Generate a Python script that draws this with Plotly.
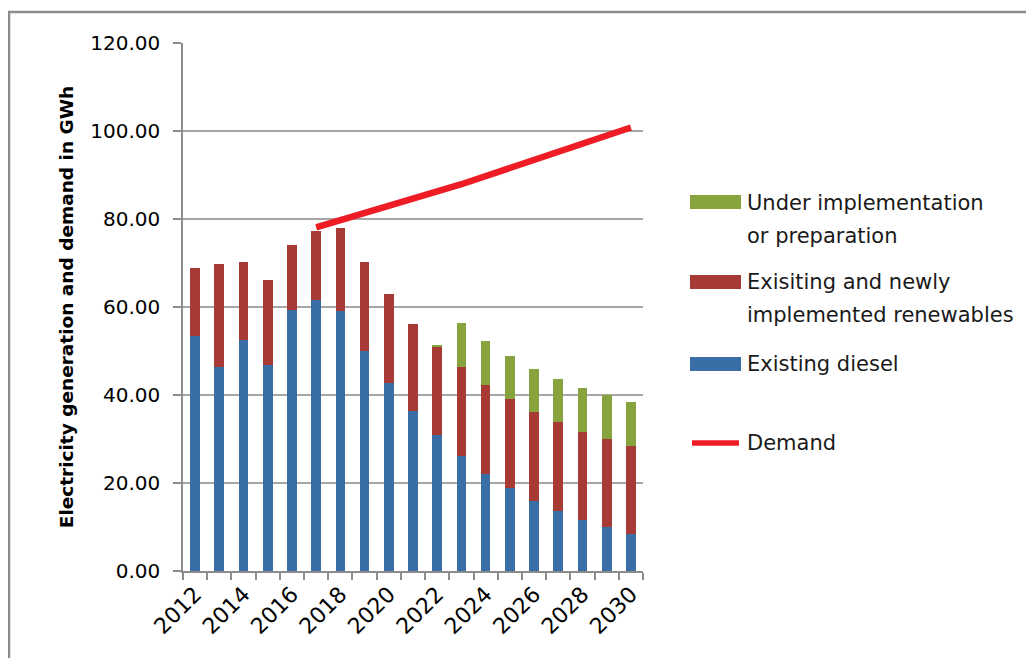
import plotly.graph_objects as go

years = list(range(2012, 2031))
diesel = [53.3, 46.3, 52.4, 46.9, 59.4, 61.7, 59.2, 50.1, 42.8, 36.4,
          30.9, 26.2, 22.1, 18.9, 16.0, 13.7, 11.6, 9.9, 8.4]
renew_total = [68.9, 69.8, 70.2, 66.1, 74.2, 77.3, 78.0, 70.2, 62.9, 56.2,
               51.0, 46.4, 42.3, 39.1, 36.1, 33.9, 31.7, 30.1, 28.5]
green_total = [None] * 10 + [51.4, 56.3, 52.3, 48.9, 46.0, 43.7, 41.7, 40.0, 38.5]
demand_years = list(range(2017, 2031))
demand = [78.1, 79.8, 81.5, 83.2, 84.8, 86.3, 87.9, 89.7, 91.6, 93.4, 95.2, 97.0, 98.7, 100.8]

renew = [round(t - d, 2) for t, d in zip(renew_total, diesel)]
green = [0 if g is None else round(g - t, 2) for g, t in zip(green_total, renew_total)]

names = ["Existing diesel", "Exisiting and newly<br>implemented renewables",
         "Under implementation<br>or preparation", "Demand"]
colors = ["#3A6EA6", "#A83A36", "#86A33E", "#EE1C25"]

tick_years = [y for y in years if y % 2 == 0]
boundaries = [y - 0.5 for y in years] + [years[-1] + 0.5]
y_ticks = [0, 20, 40, 60, 80, 100, 120]

FONT = "DejaVu Sans"
fig = go.Figure()
for vals, nm, col in zip([diesel, renew, green], names[:3], colors[:3]):
    fig.add_trace(go.Bar(x=years, y=vals, name=nm.replace("<br>", " "),
                         marker=dict(color=col, line=dict(width=0)),
                         showlegend=False))
fig.add_trace(go.Scatter(x=demand_years, y=demand, mode="lines", name="Demand",
                         line=dict(color=colors[3], width=6.5), showlegend=False))

# page body has an 8px margin; work in page pixel coordinates
OFF = 8
W, H = 1034 - OFF, 658 - OFF
L, R, T, B = 183, 643, 43, 571


def px(x):
    return (x - L) / (R - L)


def py(y):
    return (B - y) / (B - T)


shapes = [dict(type="rect", xref="paper", yref="paper", x0=px(OFF + 1), x1=px(1300),
               y0=py(900), y1=py(12), line=dict(color="#8C8C8C", width=2.5),
               fillcolor="rgba(0,0,0,0)", layer="below")]
annotations = []
# custom legend: (series index, kind, swatch centre y, first text line y)
legend_items = [
    (2, "bar", 202, 203),
    (1, "bar", 282, 282),
    (0, "bar", 364, 364),
    (3, "line", 443, 443),
]
LINE_STEP = 33
for idx, kind, sy, ty in legend_items:
    if kind == "bar":
        shapes.append(dict(type="rect", xref="paper", yref="paper",
                           x0=px(690), x1=px(741), y0=py(sy + 7), y1=py(sy - 7),
                           fillcolor=colors[idx], line=dict(width=0)))
    else:
        shapes.append(dict(type="line", xref="paper", yref="paper",
                           x0=px(692), x1=px(739), y0=py(sy), y1=py(sy),
                           line=dict(color=colors[idx], width=5.5)))
    for k, part in enumerate(names[idx].split("<br>")):
        annotations.append(dict(xref="paper", yref="paper", x=px(745),
                                y=py(ty + k * LINE_STEP),
                                xanchor="left", yanchor="middle", align="left",
                                text=part, showarrow=False,
                                font=dict(family=FONT, size=21, color="#1a1a1a")))

fig.update_layout(
    width=W, height=H,
    margin=dict(l=L - OFF, r=1034 - R, t=T - OFF, b=658 - B, pad=0),
    paper_bgcolor="white", plot_bgcolor="white",
    barmode="stack", bargap=0.6,
    font=dict(family=FONT, color="black"),
    shapes=shapes, annotations=annotations,
    showlegend=False,
)
fig.update_xaxes(
    range=[years[0] - 0.5, years[-1] + 0.5],
    tickmode="array", tickvals=tick_years, ticktext=[str(y) for y in tick_years],
    tickangle=-45, ticks="", tickfont=dict(size=22, family=FONT),
    showline=True, linecolor="#8C8C8C", linewidth=1.5,
    showgrid=False, zeroline=False,
    minor=dict(tickmode="array", tickvals=boundaries, ticks="outside",
               ticklen=7, tickcolor="#8C8C8C", tickwidth=1.5, showgrid=False),
)
fig.update_yaxes(
    range=[0, 120], tickmode="array", tickvals=y_ticks,
    ticktext=[f"{v:.2f}" for v in y_ticks],
    ticks="outside", ticklen=8, tickcolor="#8C8C8C", tickwidth=1.5,
    tickfont=dict(size=20, family=FONT), ticklabelstandoff=9,
    showline=True, linecolor="#8C8C8C", linewidth=1.5,
    showgrid=True, gridcolor="#A6A6A6", gridwidth=1.5, zeroline=False,
    title=dict(text="<b>Electricity generation and demand in GWh</b>",
               font=dict(size=18.5, family=FONT), standoff=12),
)

fig.write_html("out.html")
